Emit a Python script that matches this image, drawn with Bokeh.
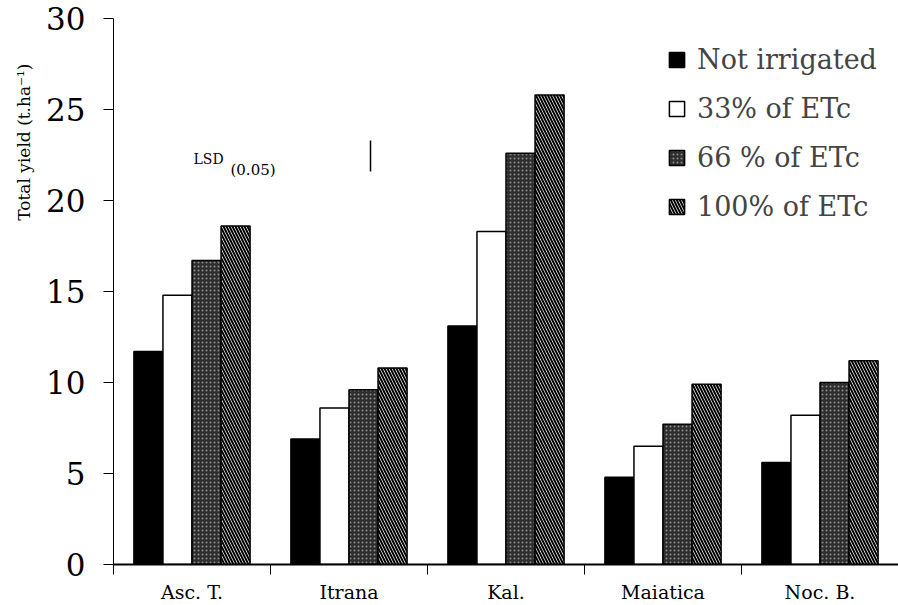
from bokeh.plotting import figure
from bokeh.models import Range1d, FixedTicker, Legend, LegendItem, Title
from bokeh.core.properties import value
from bokeh.embed import file_html
from bokeh.resources import INLINE

categories = ["Asc. T.", "Itrana", "Kal.", "Maiatica", "Noc. B."]
series = ["Not irrigated", "33% of ETc", "66 % of ETc", "100% of ETc"]
not_irrigated = [11.7, 6.9, 13.1, 4.8, 5.6]
etc_33 = [14.8, 8.6, 18.3, 6.5, 8.2]
etc_66 = [16.7, 9.6, 22.6, 7.7, 10.0]
etc_100 = [18.6, 10.8, 25.8, 9.9, 11.2]
y_ticks = [0, 5, 10, 15, 20, 25, 30]
lsd_value = 1.7

FONT = "DejaVu Serif"

p = figure(width=898, height=605, output_backend="svg", toolbar_location=None,
           x_range=Range1d(0, len(categories)), y_range=Range1d(0, 30),
           min_border_left=113, min_border_right=0, min_border_top=18, min_border_bottom=38)
p.grid.visible = False
p.outline_line_color = None
p.background_fill_color = "white"

bw = 0.185
offsets = [-1.5 * bw, -0.5 * bw, 0.5 * bw, 1.5 * bw]
centers = [i + 0.5 for i in range(len(categories))]
styles = [
    dict(fill_color="black"),
    dict(fill_color="white"),
    dict(fill_color="#2e2e2e", hatch_pattern="dot", hatch_color="#8a8a8a", hatch_scale=4, hatch_weight=1),
    dict(fill_color="white", hatch_pattern="left_diagonal_line", hatch_color="black", hatch_scale=6, hatch_weight=2),
]
vals = [not_irrigated, etc_33, etc_66, etc_100]
items = []
for k in range(4):
    xs = [c + offsets[k] for c in centers]
    r = p.vbar(x=xs, top=vals[k], width=bw, bottom=0, line_color="black", line_width=1.5, **styles[k])
    items.append(LegendItem(label=series[k], renderers=[r]))

legend = Legend(items=items, location=(554, 342), padding=0, margin=0,
                border_line_color=None, background_fill_alpha=0,
                label_text_font=FONT, label_text_font_size="27px",
                glyph_width=19, glyph_height=19, label_standoff=11, spacing=18)
p.add_layout(legend)

# LSD annotation
p.text(x=[0.51], y=[22.3], text=["LSD"], text_font=value(FONT), text_font_size="14px",
       text_baseline="middle", text_align="left", text_color="black")
p.text(x=[0.745], y=[21.7], text=["(0.05)"], text_font=value(FONT), text_font_size="15px",
       text_baseline="middle", text_align="left", text_color="black")
p.segment(x0=[1.637], y0=[21.6], x1=[1.637], y1=[21.6 + lsd_value], line_color="black", line_width=1.5)

# x axis
xa = p.xaxis[0]
xa.ticker = FixedTicker(ticks=centers, minor_ticks=list(range(len(categories) + 1)))
xa.major_label_overrides = {c: n for c, n in zip(centers, categories)}
xa.major_tick_line_color = None
xa.major_tick_out = 0
xa.major_tick_in = 0
xa.minor_tick_out = 10
xa.minor_tick_in = 0
xa.minor_tick_line_color = "black"
xa.axis_line_color = "black"
xa.axis_line_width = 2
xa.major_label_text_font = FONT
xa.major_label_text_font_size = "19px"
xa.major_label_text_color = "black"
xa.major_label_standoff = 6

# y axis
ya = p.yaxis[0]
ya.ticker = FixedTicker(ticks=y_ticks)
ya.minor_tick_line_color = None
ya.major_tick_out = 10
ya.major_tick_in = 0
ya.major_tick_line_color = "black"
ya.axis_line_color = "black"
ya.major_label_text_font = FONT
ya.major_label_text_font_size = "31px"
ya.major_label_text_color = "black"
ya.major_label_standoff = 18

# y axis title, placed high as in the reference
p.add_layout(Title(text="Total yield (t.ha⁻¹)", align="right", offset=45, standoff=20,
                   text_font=FONT, text_font_size="17px", text_font_style="normal",
                   text_color="black"), "left")

open("out.html", "w").write(file_html(p, INLINE))
